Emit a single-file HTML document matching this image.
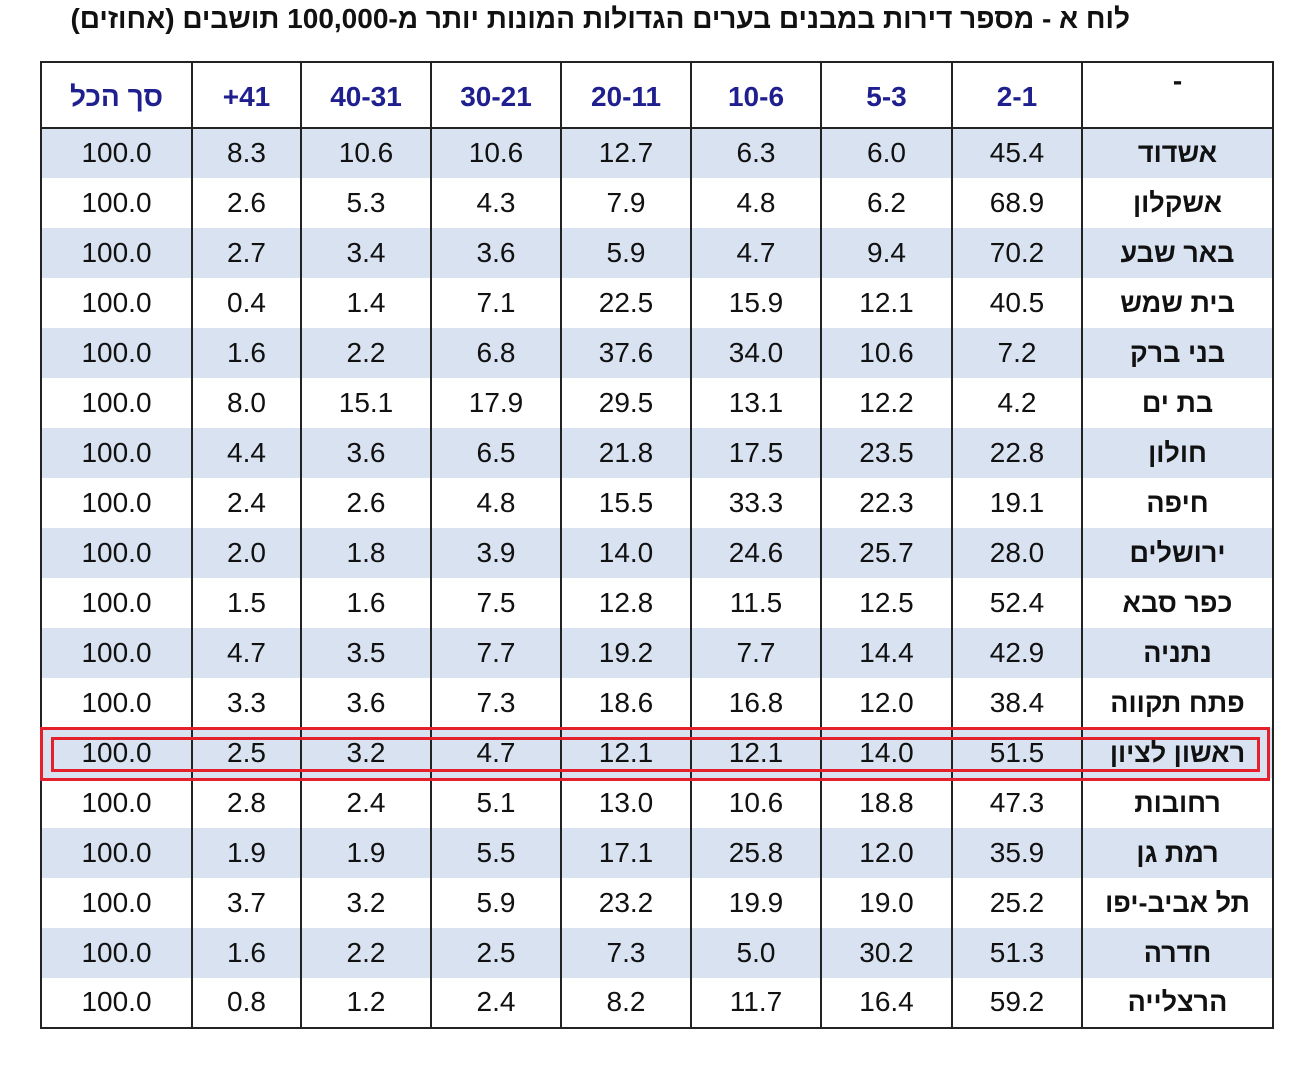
<!DOCTYPE html>
<html><head><meta charset="utf-8"><style>
body{margin:0;width:1300px;height:1079px;background:#fff;position:relative;overflow:hidden;font-family:"Liberation Sans",Arial,sans-serif}
.title{position:absolute;right:170px;top:3px;font-size:28px;font-weight:bold;direction:rtl;white-space:nowrap;color:#111}
table{position:absolute;left:40px;top:61px;border-collapse:collapse;direction:rtl;table-layout:fixed;width:1232px}
td,th{border-left:2px solid #222;border-right:2px solid #222;text-align:center;padding:0;font-size:28px;color:#111;font-weight:normal;box-sizing:border-box}
th{height:66px;color:#1f1f8f;font-weight:bold;font-size:28px;border-top:2px solid #222;border-bottom:2px solid #222;line-height:28px;padding-top:3px}
td{height:50px;line-height:28px;padding-bottom:1px}
tr.b td{background:#d9e2f1}
td.n{font-weight:bold;font-size:27px}
tr:last-child td{border-bottom:2px solid #222}
.r{position:absolute;border:3px solid #e3202b}
</style></head><body>
<div class="title">לוח א - מספר דירות במבנים בערים הגדולות המונות יותר מ-100,000 תושבים (אחוזים)</div>
<table>
<colgroup><col style="width:191px"><col style="width:130px"><col style="width:131px"><col style="width:130px"><col style="width:130px"><col style="width:130px"><col style="width:130px"><col style="width:109px"><col style="width:151px"></colgroup>
<tr><th style="color:#111;vertical-align:top;padding-top:4px">-</th><th>2-1</th><th>5-3</th><th>10-6</th><th>20-11</th><th>30-21</th><th>40-31</th><th>41+</th><th>סך הכל</th></tr>
<tr class="b"><td class="n">אשדוד</td><td>45.4</td><td>6.0</td><td>6.3</td><td>12.7</td><td>10.6</td><td>10.6</td><td>8.3</td><td>100.0</td></tr>
<tr><td class="n">אשקלון</td><td>68.9</td><td>6.2</td><td>4.8</td><td>7.9</td><td>4.3</td><td>5.3</td><td>2.6</td><td>100.0</td></tr>
<tr class="b"><td class="n">באר שבע</td><td>70.2</td><td>9.4</td><td>4.7</td><td>5.9</td><td>3.6</td><td>3.4</td><td>2.7</td><td>100.0</td></tr>
<tr><td class="n">בית שמש</td><td>40.5</td><td>12.1</td><td>15.9</td><td>22.5</td><td>7.1</td><td>1.4</td><td>0.4</td><td>100.0</td></tr>
<tr class="b"><td class="n">בני ברק</td><td>7.2</td><td>10.6</td><td>34.0</td><td>37.6</td><td>6.8</td><td>2.2</td><td>1.6</td><td>100.0</td></tr>
<tr><td class="n">בת ים</td><td>4.2</td><td>12.2</td><td>13.1</td><td>29.5</td><td>17.9</td><td>15.1</td><td>8.0</td><td>100.0</td></tr>
<tr class="b"><td class="n">חולון</td><td>22.8</td><td>23.5</td><td>17.5</td><td>21.8</td><td>6.5</td><td>3.6</td><td>4.4</td><td>100.0</td></tr>
<tr><td class="n">חיפה</td><td>19.1</td><td>22.3</td><td>33.3</td><td>15.5</td><td>4.8</td><td>2.6</td><td>2.4</td><td>100.0</td></tr>
<tr class="b"><td class="n">ירושלים</td><td>28.0</td><td>25.7</td><td>24.6</td><td>14.0</td><td>3.9</td><td>1.8</td><td>2.0</td><td>100.0</td></tr>
<tr><td class="n">כפר סבא</td><td>52.4</td><td>12.5</td><td>11.5</td><td>12.8</td><td>7.5</td><td>1.6</td><td>1.5</td><td>100.0</td></tr>
<tr class="b"><td class="n">נתניה</td><td>42.9</td><td>14.4</td><td>7.7</td><td>19.2</td><td>7.7</td><td>3.5</td><td>4.7</td><td>100.0</td></tr>
<tr><td class="n">פתח תקווה</td><td>38.4</td><td>12.0</td><td>16.8</td><td>18.6</td><td>7.3</td><td>3.6</td><td>3.3</td><td>100.0</td></tr>
<tr class="b"><td class="n">ראשון לציון</td><td>51.5</td><td>14.0</td><td>12.1</td><td>12.1</td><td>4.7</td><td>3.2</td><td>2.5</td><td>100.0</td></tr>
<tr><td class="n">רחובות</td><td>47.3</td><td>18.8</td><td>10.6</td><td>13.0</td><td>5.1</td><td>2.4</td><td>2.8</td><td>100.0</td></tr>
<tr class="b"><td class="n">רמת גן</td><td>35.9</td><td>12.0</td><td>25.8</td><td>17.1</td><td>5.5</td><td>1.9</td><td>1.9</td><td>100.0</td></tr>
<tr><td class="n">תל אביב-יפו</td><td>25.2</td><td>19.0</td><td>19.9</td><td>23.2</td><td>5.9</td><td>3.2</td><td>3.7</td><td>100.0</td></tr>
<tr class="b"><td class="n">חדרה</td><td>51.3</td><td>30.2</td><td>5.0</td><td>7.3</td><td>2.5</td><td>2.2</td><td>1.6</td><td>100.0</td></tr>
<tr><td class="n">הרצלייה</td><td>59.2</td><td>16.4</td><td>11.7</td><td>8.2</td><td>2.4</td><td>1.2</td><td>0.8</td><td>100.0</td></tr>
</table>
<div class="r" style="left:40px;top:727px;width:1224px;height:48px"></div>
<div class="r" style="left:51px;top:737px;width:1203px;height:29px"></div>
</body></html>
